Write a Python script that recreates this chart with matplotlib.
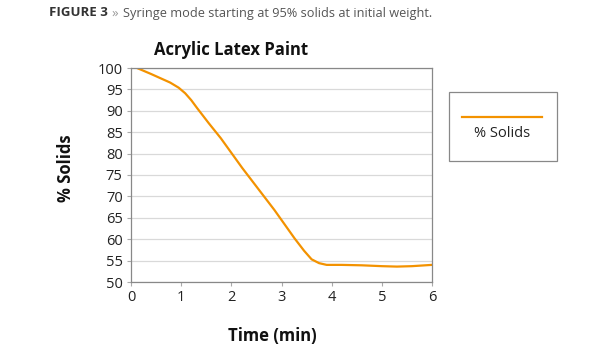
import matplotlib
matplotlib.use("Agg")
import matplotlib.pyplot as plt
from matplotlib.patches import Rectangle
from matplotlib.lines import Line2D

plt.rcParams['font.family'] = ['Open Sans', 'DejaVu Sans']

# data
time_min = [0.12, 0.4, 0.78, 0.95, 1.08, 1.2, 1.32, 1.55, 1.79, 2.22, 2.86, 3.26, 3.45,
            3.6, 3.75, 3.9, 4.2, 4.6, 5.0, 5.3, 5.6, 6.0]
solids = [100, 98.6, 96.6, 95.4, 94.1, 92.5, 90.6, 87.1, 83.6, 76.6, 66.8, 60.2, 57.3,
          55.3, 54.4, 54.0, 54.0, 53.9, 53.7, 53.6, 53.7, 54.0]
xticks = [0, 1, 2, 3, 4, 5, 6]
yticks = list(range(50, 101, 5))

orange = '#f39200'
W, H = 615, 350

fig = plt.figure(figsize=(6.15, 3.5), dpi=100)
ax = fig.add_axes([131 / W, 1 - 282 / H, (432 - 131) / W, (282 - 68) / H])

ax.plot(time_min, solids, color=orange, lw=1.6, solid_capstyle='round',
        solid_joinstyle='round')

ax.set_xlim(0, 6)
ax.set_ylim(50, 100)
ax.set_xticks(xticks)
ax.set_yticks(yticks)
ax.tick_params(labelsize=10.5, colors='#222222', length=3, color='#aaaaaa', pad=3)
ax.grid(axis='y', color='#d9d9d9', lw=0.9)
ax.set_axisbelow(True)
for s in ax.spines.values():
    s.set_color('#888888')
    s.set_linewidth(0.9)

fig.text(231 / W, 1 - 50 / H, 'Acrylic Latex Paint', ha='center', va='center',
         fontsize=12, fontweight='bold', color='#111111')
fig.text(66 / W, 1 - 168 / H, '% Solids', ha='center', va='center', rotation=90,
         fontsize=12, fontweight='bold', color='#111111')
fig.text(272 / W, 1 - 336 / H, 'Time (min)', ha='center', va='center',
         fontsize=12, fontweight='bold', color='#111111')

# caption, pieces placed one after the other
fig.text(49 / W, 1 - 13 / H, 'FIGURE 3', ha='left', va='center',
         fontsize=9.5, fontweight='bold', color='#333333')
fig.text(111 / W, 1 - 13 / H, '\u00bb', ha='left', va='center',
         fontsize=9.5, color='#999999')
fig.text(123 / W, 1 - 13 / H, 'Syringe mode starting at 95% solids at initial weight.',
         ha='left', va='center', fontsize=9.2, color='#555555')

# legend box
fig.add_artist(Rectangle((449 / W, 1 - 161 / H), (557 - 449) / W, (161 - 92) / H,
                         transform=fig.transFigure, fill=False,
                         edgecolor='#888888', lw=0.9))
fig.add_artist(Line2D([462 / W, 542 / W], [1 - 117 / H, 1 - 117 / H],
                      transform=fig.transFigure, color=orange, lw=1.6))
fig.text(502 / W, 1 - 134 / H, '% Solids', ha='center', va='center',
         fontsize=10.5, color='#222222')

fig.savefig('out.png', dpi=100)
